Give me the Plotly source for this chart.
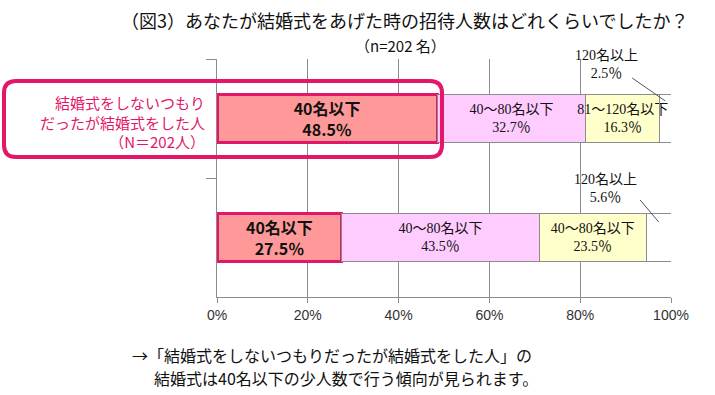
import plotly.graph_objects as go

# ---- data ----
categories = ["結婚式をしないつもりだったが結婚式をした人", "全体"]
bands = ["40名以下", "40〜80名以下", "81〜120名以下", "120名以上"]
# values per band: [top bar, bottom bar]
v_le40 = [48.5, 27.5]
v_40_80 = [32.7, 43.5]
v_81_120 = [16.3, 23.5]
v_ge120 = [2.5, 5.6]
# segment label names as printed in the chart (per bar)
labels_40_80 = ["40〜80名以下", "40〜80名以下"]
labels_81_120 = ["81〜120名以下", "40〜80名以下"]
tick_vals = [0, 20, 40, 60, 80, 100]
tick_text = ["0%", "20%", "40%", "60%", "80%", "100%"]

CRIMSON = "#E3166A"
GRID = "#8C8C8C"
SERIF = "Liberation Serif, Noto Sans CJK JP"
SANS = "Noto Sans CJK JP"

fig = go.Figure()

common = dict(orientation="h", y=categories, textposition="inside",
              insidetextanchor="middle", textangle=0, constraintext="none",
              cliponaxis=False, hoverinfo="skip", showlegend=False)

fig.add_trace(go.Bar(
    x=v_le40, name=bands[0],
    text=[f"<b>{bands[0]}<br>{v:.1f}％</b>" for v in v_le40],
    textfont=dict(family=SANS, size=16, color="#111"),
    marker=dict(color="#FF9999", line=dict(color=CRIMSON, width=3)),
    **common))
fig.add_trace(go.Bar(
    x=v_40_80, name=bands[1],
    text=[f"{l}<br>{v:.1f}％" for l, v in zip(labels_40_80, v_40_80)],
    textfont=dict(family=SERIF, size=14, color="#111"),
    marker=dict(color="#FFCCFF", line=dict(color=GRID, width=1)),
    **common))
fig.add_trace(go.Bar(
    x=v_81_120, name=bands[2],
    text=[f"{l}<br>{v:.1f}％" for l, v in zip(labels_81_120, v_81_120)],
    textfont=dict(family=SERIF, size=14, color="#111"),
    marker=dict(color="#FFFFCC", line=dict(color=GRID, width=1)),
    **common))
fig.add_trace(go.Bar(
    x=v_ge120, name=bands[3],
    marker=dict(color="rgba(255,255,255,0)", line=dict(color=GRID, width=1)),
    **common))

# plot area pixel geometry -> paper helpers
L, R, T, B = 217, 671, 59, 297
W, H = 715, 395
def px_x(p):
    return (p - L) / (R - L)
def px_y(p):
    return (B - p) / (B - T)

annotations = []
shapes = []

# callouts for the 120名以上 segments
ends = [v_le40[i] + v_40_80[i] + v_81_120[i] + v_ge120[i] / 2 for i in range(2)]
callout = [
    dict(text_dx=-12.9, text_y=64, x0_dx=-7.3, y0=78, y1=101),
    dict(text_dx=-11.8, text_y=188, x0_dx=-4.1, y0=200, y1=222),
]
for i, c in enumerate(callout):
    annotations.append(dict(
        x=ends[i] + c["text_dx"], xref="x", y=px_y(c["text_y"]), yref="paper",
        xanchor="center", yanchor="middle",
        text=f"{bands[3]}<br>{v_ge120[i]:.1f}％", showarrow=False,
        font=dict(family=SERIF, size=14, color="#111"), align="center"))
    shapes.append(dict(type="line", xref="x", yref="paper",
                       x0=ends[i] + c["x0_dx"], y0=px_y(c["y0"]),
                       x1=ends[i], y1=px_y(c["y1"]),
                       line=dict(color="#555", width=1)))

# left category label
annotations.append(dict(
    x=px_x(207), y=px_y(122), xref="paper", yref="paper", xanchor="right",
    yanchor="middle", align="right", showarrow=False,
    text="結婚式をしないつもり<br>だったが結婚式をした人<br>（N＝202人）",
    font=dict(family=SANS, size=15, color=CRIMSON)))

# title
annotations.append(dict(
    x=px_x(404), y=px_y(20), xref="paper", yref="paper", showarrow=False,
    xanchor="center", yanchor="middle",
    text="（図3）あなたが結婚式をあげた時の招待人数はどれくらいでしたか？",
    font=dict(family=SANS, size=18, color="#111")))
annotations.append(dict(
    x=px_x(400), y=px_y(45), xref="paper", yref="paper", showarrow=False,
    xanchor="center", yanchor="middle",
    text="（n=202 名）", font=dict(family=SANS, size=15, color="#111")))

# bottom comment
annotations.append(dict(
    x=px_x(130), y=px_y(355), xref="paper", yref="paper", xanchor="left",
    yanchor="middle",
    showarrow=False, text="→「結婚式をしないつもりだったが結婚式をした人」の",
    font=dict(family=SANS, size=16, color="#111")))
annotations.append(dict(
    x=px_x(152), y=px_y(378), xref="paper", yref="paper", xanchor="left",
    yanchor="middle",
    showarrow=False, text="結婚式は40名以下の少人数で行う傾向が見られます。",
    font=dict(family=SANS, size=16, color="#111")))

# rounded highlight box
x0, x1 = px_x(4), px_x(442)
y0, y1 = px_y(81), px_y(157)
rx, ry = 12 / (R - L), 12 / (B - T)
path = (f"M {x0+rx},{y0} L {x1-rx},{y0} Q {x1},{y0} {x1},{y0-ry} "
        f"L {x1},{y1+ry} Q {x1},{y1} {x1-rx},{y1} "
        f"L {x0+rx},{y1} Q {x0},{y1} {x0},{y1+ry} "
        f"L {x0},{y0-ry} Q {x0},{y0} {x0+rx},{y0} Z")
shapes.append(dict(type="path", xref="paper", yref="paper", path=path,
                   line=dict(color=CRIMSON, width=4), layer="above"))

fig.update_layout(
    width=W, height=H,
    margin=dict(l=L, r=W - R, t=T, b=H - B, pad=0),
    barmode="stack", bargap=0.597,
    plot_bgcolor="white", paper_bgcolor="white",
    annotations=annotations, shapes=shapes,
    xaxis=dict(range=[0, 100], tickvals=tick_vals, ticktext=tick_text,
               showgrid=True, gridcolor=GRID, gridwidth=1, zeroline=False,
               showline=True, linecolor=GRID, linewidth=1,
               ticks="outside", ticklen=5, tickcolor=GRID,
               tickfont=dict(family="Liberation Sans", size=14, color="#333"),
               fixedrange=True),
    yaxis=dict(type="category", categoryorder="array", categoryarray=categories,
               autorange="reversed", showticklabels=False, showgrid=False,
               showline=True, linecolor=GRID, linewidth=1,
               ticks="outside", tickson="boundaries", ticklen=10,
               tickcolor=GRID, zeroline=False, fixedrange=True),
)

fig.write_html("out.html", config={"displayModeBar": False},
               post_script="document.body.style.margin='0';document.body.style.overflow='hidden';")
